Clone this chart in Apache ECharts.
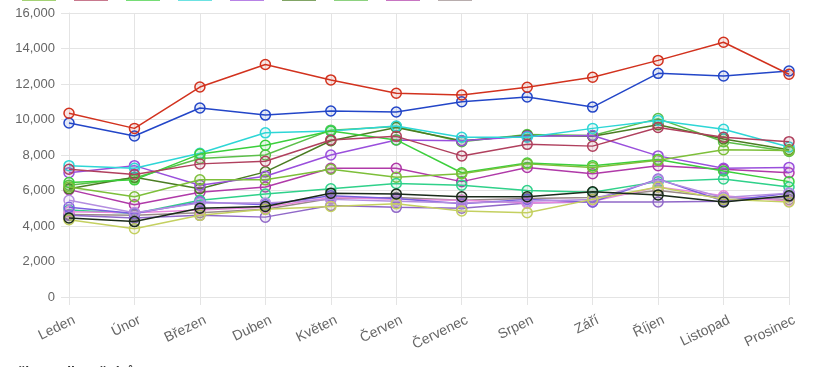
<!DOCTYPE html>
<html>
<head>
<meta charset="utf-8">
<script src="https://cdn.jsdelivr.net/npm/echarts@6/dist/echarts.min.js"></script>
<style>
html,body{margin:0;padding:0;background:#fff;}
#chart{width:836px;height:367px;}
</style>
</head>
<body>
<div id="chart"></div>
<script>
const months = ["Leden","Únor","Březen","Duben","Květen","Červen","Červenec","Srpen","Září","Říjen","Listopad","Prosinec"];
const yTicks = [0,2000,4000,6000,8000,10000,12000,14000,16000];
const bottomTitle = "Tržby podle měsíců";

const seriesNames = ["Řada 1","Řada 2","Řada 3","Řada 4","Řada 5","Řada 6","Řada 7","Řada 8","Řada 9",
                     "Řada 10","Řada 11","Řada 12","Řada 13","Řada 14","Řada 15","Řada 16","Řada 17","Řada 18"];
const seriesColors = ["#d2321e","#2346c8","#1a2a1a","#c4d060","#b48ee0","#7a5ee0","#e888dc","#9068c8","#2fd18a",
                      "#7dbf3a","#b0405e","#3ccf3c","#2ed6d6","#9a4fdc","#4b7d23","#5cbf4a","#b03aa8","#9a8a8a"];

const s01 = [10350, 9500, 11830, 13100, 12230, 11480, 11380, 11820, 12380, 13330, 14350, 12550];
const s02 = [9800, 9070, 10650, 10250, 10480, 10420, 11000, 11270, 10700, 12600, 12450, 12730];
const s03 = [4450, 4250, 5000, 5100, 5850, 5800, 5650, 5650, 5930, 5750, 5350, 5700];
const s04 = [4350, 3850, 4600, 4950, 5100, 5250, 4850, 4750, 5500, 6200, 5500, 5350];
const s05 = [5450, 4750, 5300, 5300, 5500, 5400, 5300, 5400, 5500, 6600, 5600, 5850];
const s06 = [5050, 4700, 5350, 5200, 5700, 5550, 5250, 5500, 5350, 6650, 5400, 5850];
const s07 = [4800, 4750, 4900, 5050, 5600, 5500, 5450, 5300, 5400, 6200, 5700, 5400];
const s08 = [4600, 4450, 4600, 4500, 5150, 5050, 5000, 5300, 5350, 5350, 5400, 5650];
const s09 = [4900, 4700, 5450, 5800, 6100, 6400, 6300, 6000, 5900, 6500, 6650, 6200];
const s10 = [6200, 5650, 6600, 6600, 7200, 6750, 6950, 7500, 7300, 7700, 8300, 8250];
const s11 = [7200, 6900, 7500, 7650, 8850, 9050, 7950, 8600, 8500, 9550, 9000, 8750];
const s12 = [6450, 6600, 8050, 8550, 9350, 8850, 7000, 7550, 7400, 7750, 7100, 6500];
const s13 = [7400, 7250, 8100, 9250, 9350, 9630, 9000, 9000, 9500, 9950, 9450, 8450];
const s14 = [7000, 7400, 6300, 6800, 8000, 8850, 8800, 9050, 9100, 7950, 7250, 7300];
const s15 = [6100, 6750, 6100, 7050, 8800, 9550, 8800, 9100, 9050, 9700, 8900, 8300];
const s16 = [6300, 6700, 7800, 8000, 9400, 9600, 8750, 9150, 9100, 10050, 8750, 8200];
const s17 = [6050, 5200, 5900, 6200, 7250, 7250, 6500, 7300, 6950, 7400, 7200, 7000];
const s18 = [4650, 4600, 4750, 4950, 5550, 5600, 5450, 5550, 5600, 6000, 5600, 5500];
const seriesData = [s01,s02,s03,s04,s05,s06,s07,s08,s09,s10,s11,s12,s13,s14,s15,s16,s17,s18];

function hexA(hex, a){
  const n = parseInt(hex.slice(1),16);
  return 'rgba(' + ((n>>16)&255) + ',' + ((n>>8)&255) + ',' + (n&255) + ',' + a + ')';
}

const chart = echarts.init(document.getElementById('chart'), null, {renderer:'canvas'});
const FONT = '"Liberation Sans", Arial, Helvetica, sans-serif';
const gridColor = '#e4e4e4';

const series = seriesData.map((d, i) => ({
  name: seriesNames[i],
  type: 'line',
  data: d,
  z: 20 - i,
  symbol: 'circle',
  symbolSize: 10,
  showSymbol: true,
  animation: false,
  lineStyle: {color: seriesColors[i], width: 1.5},
  itemStyle: {color: hexA(seriesColors[i], 0.12), borderColor: seriesColors[i], borderWidth: 1.5},
  emphasis: {disabled: true}
}));

chart.setOption({
  animation: false,
  textStyle: {fontFamily: FONT},
  grid: {left: 69, right: 47, top: 13, bottom: 70, containLabel: false},
  legend: {
    data: seriesNames.slice(9).map((n, k) => ({name: n, itemStyle: {color: seriesColors[9 + k], opacity: 0.7}})),
    icon: 'rect',
    left: 22,
    top: -14,
    padding: 0,
    itemWidth: 32,
    itemHeight: 13,
    itemGap: 18,
    formatter: () => '',
    textStyle: {fontSize: 12},
    selectedMode: false
  },
  xAxis: {
    type: 'category',
    data: months,
    boundaryGap: false,
    axisLine: {show: true, lineStyle: {color: gridColor}},
    axisTick: {show: true, length: 8, lineStyle: {color: gridColor}},
    splitLine: {show: true, lineStyle: {color: gridColor}},
    axisLabel: {rotate: 26, color: '#666', fontSize: 14, fontFamily: FONT, margin: 25, interval: 0,
      padding: [0, -6, 0, 0]}
  },
  yAxis: {
    type: 'value',
    min: yTicks[0],
    max: yTicks[yTicks.length - 1],
    interval: yTicks[1] - yTicks[0],
    axisLine: {show: true, lineStyle: {color: gridColor}},
    axisTick: {show: true, length: 8, lineStyle: {color: gridColor}},
    splitLine: {show: true, lineStyle: {color: gridColor}},
    axisLabel: {color: '#666', fontSize: 13, fontFamily: FONT, margin: 14,
      formatter: v => v.toLocaleString('en-US')}
  },
  graphic: [{
    type: 'text', left: 5, top: 366,
    style: {text: bottomTitle, fill: '#333', font: 'bold 14px ' + FONT}
  }],
  series: series
});
</script>
</body>
</html>
